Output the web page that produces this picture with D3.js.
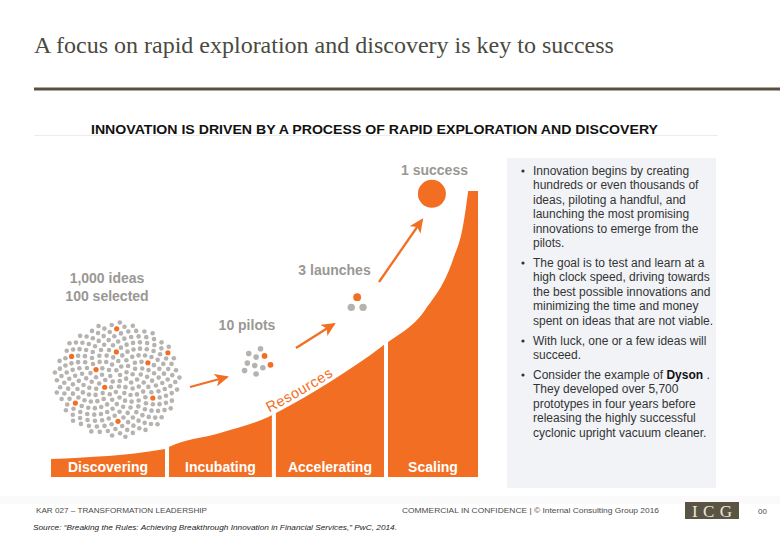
<!DOCTYPE html>
<html><head><meta charset="utf-8">
<script src="https://cdn.jsdelivr.net/npm/d3@7"></script>
<style>body{margin:0;background:#fff}svg{display:block}</style>
</head><body><svg id="c" width="780" height="540"></svg>
<script>
// ---------- data ----------
const stages = ["Discovering", "Incubating", "Accelerating", "Scaling"];
const stageBounds = [0, 27.17, 52.2, 78.45, 100];           // progress units
const curveProgress = [0, 26.7, 27.6, 39.6, 51.8, 52.7, 65.3, 78.0, 87.6, 94.1, 96.5, 97.7];
const curveLevel    = [6.3, 9.8, 10.5, 15.4, 21.7, 22.4, 33.2, 46.2, 58.4, 75.9, 87.9, 100];
const funnelNames  = ["1,000 ideas|100 selected", "10 pilots", "3 launches", "1 success"];
const funnelShown  = [265, 10, 3, 1];
const funnelOrange = [10, 3, 1, 1];
const funnelProgress = [15.5, 48.2, 71.7, 89.2];
const funnelLevel    = [33.9, 39.9, 60.5, 99.0];
const bullets = [
  [["Innovation begins by creating"], ["hundreds or even thousands of"], ["ideas, piloting a handful, and"], ["launching the most promising"], ["innovations to emerge from the"], ["pilots."]],
  [["The goal is to test and learn at a"], ["high clock speed, driving towards"], ["the best possible innovations and"], ["minimizing the time and money"], ["spent on ideas that are not viable."]],
  [["With luck, one or a few ideas will"], ["succeed."]],
  [["Consider the example of ", "Dyson", " ."], ["They developed over 5,700"], ["prototypes in four years before"], ["releasing the highly successful"], ["cyclonic upright vacuum cleaner."]]
];
const titleText = "A focus on rapid exploration and discovery is key to success";
const subtitleText = "INNOVATION IS DRIVEN BY A PROCESS OF RAPID EXPLORATION AND DISCOVERY";

// ---------- setup ----------
const ORANGE = "#f26e22", GRAY = "#b5b2af", LABEL = "#9a9794";
const svg = d3.select("#c");
const x = d3.scaleLinear().domain([0, 100]).range([51, 478]);
const y = d3.scaleLinear().domain([0, 100]).range([477, 191]);

// title
svg.append("text").attr("x", 34).attr("y", 53).attr("fill", "#4a4a42")
  .style("font-family", "'Liberation Serif','Times New Roman',serif").style("font-size", "24px").text(titleText);
svg.append("rect").attr("x", 34).attr("y", 87.5).attr("width", 746).attr("height", 3).attr("fill", "#56523f");
svg.append("line").attr("x1", 34).attr("x2", 718).attr("y1", 135.5).attr("y2", 135.5).attr("stroke", "#ececec");
svg.append("text").attr("x", 91).attr("y", 133.5).attr("fill", "#111")
  .style("font-family", "'Liberation Sans',Arial,sans-serif").style("font-weight", "bold").style("font-size", "13px")
  .attr("textLength", 567).attr("lengthAdjust", "spacingAndGlyphs")
  .text(subtitleText);

// ---------- resource curve ----------
const pts = curveProgress.map((p, i) => [x(p), y(curveLevel[i])]);
const line = d3.line().curve(d3.curveMonotoneX);
const curvePath = line(pts);
const areaPath = curvePath + `L${x(100)},${y(100)}L${x(100)},${y(0)}L${x(0)},${y(0)}Z`;
svg.append("path").attr("d", areaPath).attr("fill", ORANGE);
// gaps between stages
stageBounds.slice(1, -1).forEach(b => {
  svg.append("rect").attr("x", x(b) - 2).attr("y", 180).attr("width", 4).attr("height", 300).attr("fill", "#fff");
});
// stage labels
stages.forEach((s, i) => {
  const a = i === 0 ? x(stageBounds[0]) : x(stageBounds[i]) + 2;
  const b = i === stages.length - 1 ? x(stageBounds[i + 1]) : x(stageBounds[i + 1]) - 2;
  svg.append("text").attr("x", (a + b) / 2).attr("y", 471.5).attr("text-anchor", "middle")
    .attr("fill", "#fff").style("font-family", "'Liberation Sans',Arial,sans-serif")
    .style("font-weight", "bold").style("font-size", "14px").text(s);
});

// Resources text along the curve
const offPts = pts.map(p => [p[0], p[1] - 4]);
const rp = svg.append("path").attr("id", "resPath").attr("d", line(offPts)).attr("fill", "none");
const node = rp.node(), L = node.getTotalLength();
let lo = 0, hi = L;
for (let k = 0; k < 40; k++) { const m = (lo + hi) / 2; if (node.getPointAtLength(m).x < 302) lo = m; else hi = m; }
svg.append("text").attr("fill", ORANGE).style("font-family", "'Liberation Sans',Arial,sans-serif")
  .style("font-size", "14.5px").style("letter-spacing", "0.6px")
  .append("textPath").attr("href", "#resPath").attr("startOffset", lo).attr("text-anchor", "middle").text("Resources");

// ---------- funnel dots ----------
const golden = Math.PI * (3 - Math.sqrt(5));
function cluster(i, rx, ry, rOrange, rGray, stride, first, rot) {
  const n = funnelShown[i], k = funnelOrange[i];
  const cx = x(funnelProgress[i]), cy = y(funnelLevel[i]);
  const sel = new Set(d3.range(k).map(m => first + m * stride));
  const dots = d3.range(n).map(j => {
    const r = Math.sqrt((j + 0.5) / n);
    const t = j * golden + rot;
    return { x: cx + rx * r * Math.cos(t), y: cy + ry * r * Math.sin(t), o: sel.has(j) };
  });
  svg.append("g").selectAll("circle").data(dots).join("circle")
    .attr("cx", d => d.x).attr("cy", d => d.y).attr("r", d => d.o ? rOrange : rGray)
    .attr("fill", d => d.o ? ORANGE : GRAY);
}
cluster(0, 63, 58, 2.6, 2.3, 24, 14, 0.4);
cluster(1, 16, 15, 2.9, 2.8, 3, 4, 2.2);
// launches: triangle
(function () {
  const cx = x(funnelProgress[2]), cy = y(funnelLevel[2]);
  const angs = [-90, 150, 30];
  svg.append("g").selectAll("circle").data(angs).join("circle")
    .attr("cx", a => cx + 6.8 * Math.cos(a * Math.PI / 180)).attr("cy", a => cy + 6.8 * Math.sin(a * Math.PI / 180))
    .attr("r", (a, i) => i < funnelOrange[2] ? 3.9 : 3.7).attr("fill", (a, i) => i < funnelOrange[2] ? ORANGE : GRAY);
})();
svg.append("circle").attr("cx", x(funnelProgress[3])).attr("cy", y(funnelLevel[3])).attr("r", 14).attr("fill", ORANGE);

// funnel labels
const labelPos = [[107, 283], [247, 330], [334.5, 275], [434.5, 175]];
funnelNames.forEach((nm, i) => {
  const t = svg.append("text").attr("text-anchor", "middle").attr("fill", LABEL)
    .style("font-family", "'Liberation Sans',Arial,sans-serif").style("font-weight", "bold").style("font-size", "14px");
  nm.split("|").forEach((ln, j) => t.append("tspan").attr("x", labelPos[i][0]).attr("y", labelPos[i][1] + j * 17.5).text(ln));
});

// arrows
const defs = svg.append("defs");
defs.append("marker").attr("id", "ah").attr("markerUnits", "userSpaceOnUse").attr("markerWidth", 15).attr("markerHeight", 13)
  .attr("refX", 12).attr("refY", 6.5).attr("orient", "auto").attr("viewBox", "0 0 15 13")
  .append("path").attr("d", "M0,0L14,6.5L0,13L3.5,6.5Z").attr("fill", ORANGE);
const arrows = [[190, 387, 227, 377], [296, 348, 334, 324], [379, 282, 422, 220]];
svg.append("g").selectAll("line").data(arrows).join("line")
  .attr("x1", d => d[0]).attr("y1", d => d[1]).attr("x2", d => d[2]).attr("y2", d => d[3])
  .attr("stroke", ORANGE).attr("stroke-width", 2.3).attr("marker-end", "url(#ah)");

// ---------- right panel ----------
svg.append("rect").attr("x", 507).attr("y", 158).attr("width", 209).attr("height", 330).attr("fill", "#f2f3f7");
const paraY = [175, 267, 345, 379];
bullets.forEach((para, pi) => {
  svg.append("circle").attr("cx", 523).attr("cy", paraY[pi] - 4).attr("r", 1.6).attr("fill", "#333");
  const t = svg.append("text").attr("fill", "#333").style("font-family", "'Liberation Sans',Arial,sans-serif").style("font-size", "12px");
  para.forEach((ln, li) => {
    ln.forEach((seg, si) => {
      const ts = t.append("tspan").text(seg);
      if (si === 0) ts.attr("x", 533).attr("y", paraY[pi] + li * 14.4);
      if (si === 1) ts.style("font-weight", "bold").attr("fill", "#111");
    });
  });
});

// ---------- footer ----------
const ff = "'Liberation Sans',Arial,sans-serif";
svg.append("rect").attr("x", 0).attr("y", 496).attr("width", 780).attr("height", 8).attr("fill", "#fafafa");
svg.append("text").attr("x", 36).attr("y", 513).attr("fill", "#4a4a4a").style("font-family", ff).style("font-size", "8px")
  .attr("textLength", 171).attr("lengthAdjust", "spacingAndGlyphs").text("KAR 027 – TRANSFORMATION LEADERSHIP");
svg.append("text").attr("x", 402).attr("y", 513).attr("fill", "#4a4a4a").style("font-family", ff).style("font-size", "8px")
  .attr("textLength", 257).attr("lengthAdjust", "spacingAndGlyphs").text("COMMERCIAL IN CONFIDENCE  |  © Internal Consulting Group 2016");
svg.append("text").attr("x", 33).attr("y", 530).attr("fill", "#222").style("font-family", ff).style("font-size", "7.5px").style("font-style", "italic")
  .attr("textLength", 364).attr("lengthAdjust", "spacingAndGlyphs")
  .text("Source: \u201CBreaking the Rules: Achieving Breakthrough Innovation in Financial Services,\u201D PwC, 2014.");
svg.append("rect").attr("x", 685).attr("y", 502).attr("width", 54).attr("height", 17).attr("fill", "#5a5444");
svg.append("text").attr("x", 712).attr("y", 516.5).attr("text-anchor", "middle").attr("fill", "#ece8dc")
  .style("font-family", "'Liberation Serif',serif").style("font-size", "17px")
  .attr("textLength", 40).attr("lengthAdjust", "spacing").text("I C G");
svg.append("text").attr("x", 758).attr("y", 514).attr("fill", "#4a4a4a").style("font-family", ff).style("font-size", "8px").text("00");
</script></body></html>
